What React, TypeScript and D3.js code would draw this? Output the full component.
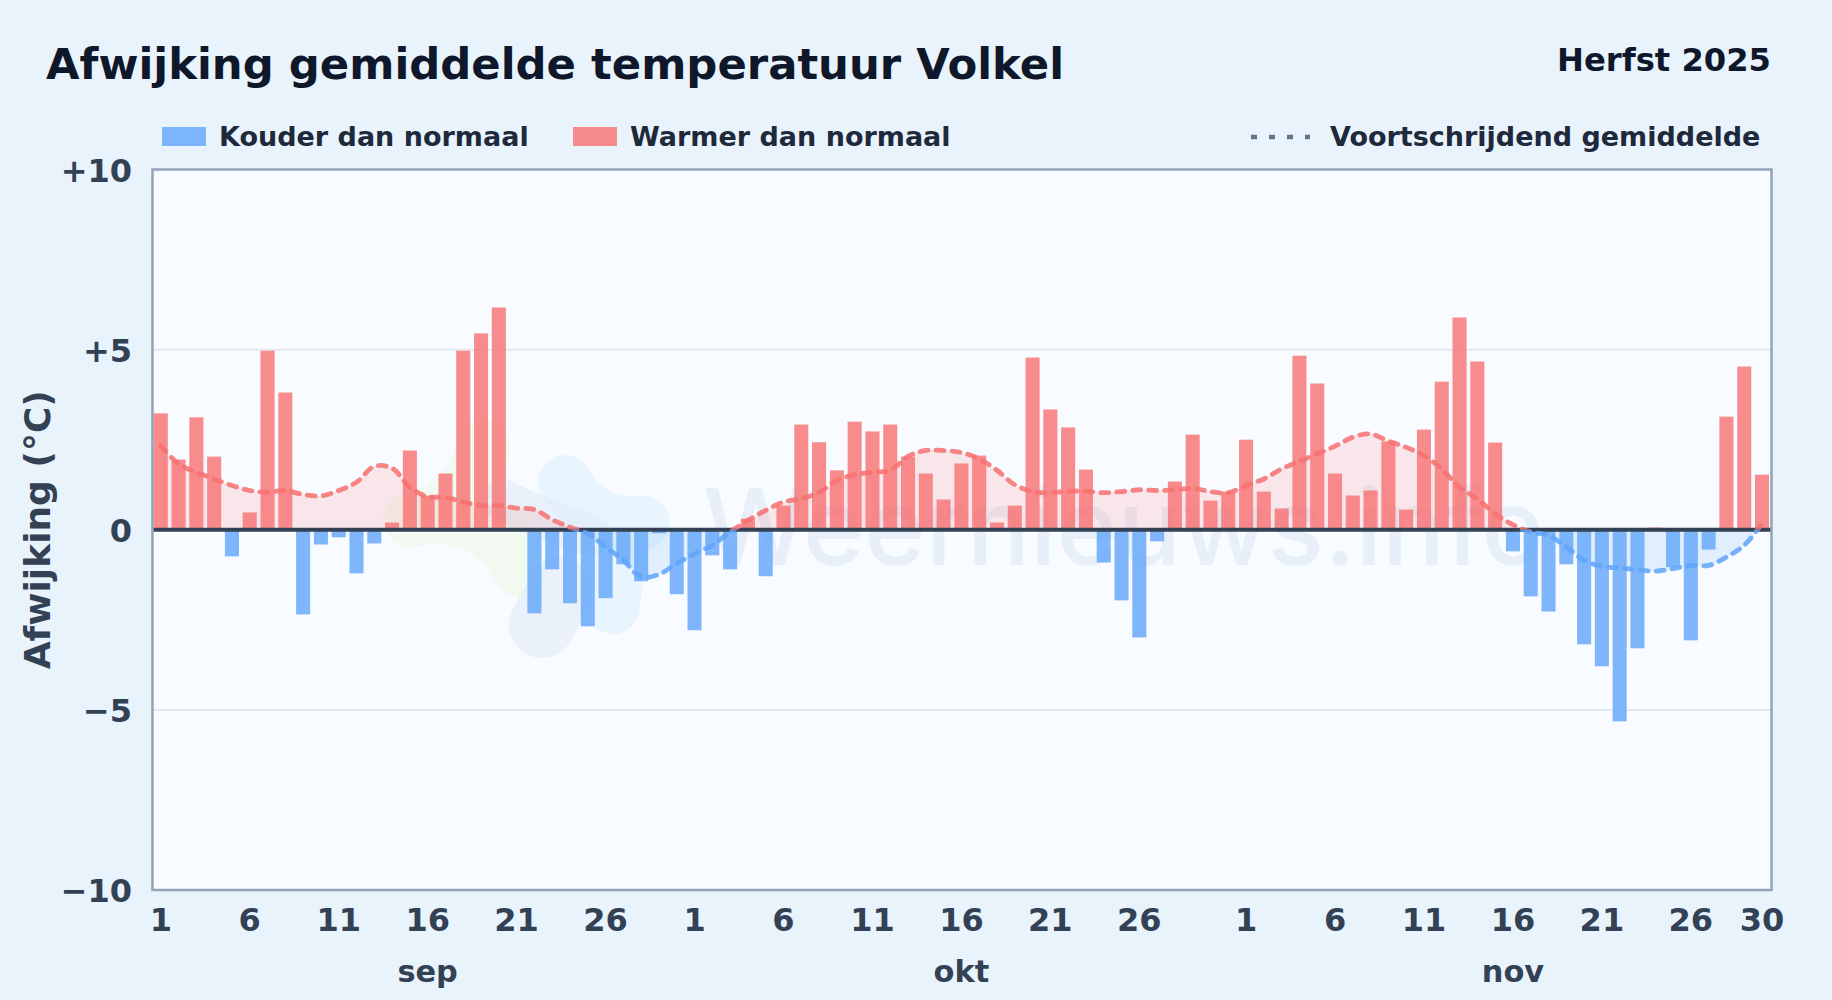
import * as d3 from "d3";

// Daily deviation from normal (°C)
const SEP_VALUES = [3.23, 1.95, 3.12, 2.03, -0.74, 0.48, 4.97, 3.81, -2.35, -0.41, -0.21, -1.21, -0.38, 0.2, 2.2, 0.95, 1.56, 4.97, 5.45, 6.17, 0, -2.32, -1.1, -2.04, -2.68, -1.9, -0.96, -1.43, -0.1, -1.79];
const OKT_VALUES = [-2.79, -0.71, -1.1, 0.31, -1.29, 0.67, 2.92, 2.43, 1.65, 3.0, 2.73, 2.92, 2.03, 1.56, 0.84, 1.84, 2.06, 0.2, 0.67, 4.78, 3.34, 2.84, 1.67, -0.91, -1.96, -2.99, -0.32, 1.34, 2.64, 0.81, 1.06];
const NOV_VALUES = [2.5, 1.06, 0.59, 4.83, 4.06, 1.56, 0.95, 1.09, 2.45, 0.56, 2.78, 4.11, 5.89, 4.67, 2.42, -0.6, -1.85, -2.27, -0.96, -3.18, -3.79, -5.32, -3.29, 0.06, -1.04, -3.07, -0.55, 3.14, 4.53, 1.53];

// Moving average
const SEP_ROLLING = [2.34, 1.83, 1.6, 1.41, 1.23, 1.09, 1.04, 1.09, 0.98, 0.94, 1.09, 1.32, 1.76, 1.71, 1.18, 0.92, 0.9, 0.77, 0.67, 0.67, 0.6, 0.56, 0.28, 0.07, -0.11, -0.48, -0.85, -1.31, -1.24, -0.94];
const OKT_ROLLING = [-0.67, -0.43, -0.06, 0.26, 0.54, 0.77, 0.86, 1.04, 1.37, 1.53, 1.6, 1.65, 2.04, 2.2, 2.2, 2.14, 1.97, 1.65, 1.25, 1.06, 1.03, 1.07, 1.07, 1.03, 1.06, 1.11, 1.09, 1.11, 1.15, 1.06, 1.03];
const NOV_ROLLING = [1.23, 1.41, 1.69, 1.9, 2.11, 2.32, 2.57, 2.66, 2.46, 2.29, 2.06, 1.69, 1.18, 0.86, 0.44, 0.14, -0.06, -0.16, -0.48, -0.85, -1.02, -1.06, -1.11, -1.15, -1.08, -0.99, -0.99, -0.76, -0.43, 0.17];

const MONTHS = ["sep", "okt", "nov"];
const MONTH_DAYS = [SEP_VALUES.length, OKT_VALUES.length, NOV_VALUES.length];
const DAY_TICKS = [1, 6, 11, 16, 21, 26];
const Y_TICKS = [10, 5, 0, -5, -10];

const WIDTH = 1832;
const HEIGHT = 1000;
const PLOT = { left: 152.5, right: 1771.5, top: 169.5, bottom: 890 };
const FONT = "'DejaVu Sans', sans-serif";

const RED = "#f87171";
const BLUE = "#60a5fa";

const values = [...SEP_VALUES, ...OKT_VALUES, ...NOV_VALUES];
const rolling = [...SEP_ROLLING, ...OKT_ROLLING, ...NOV_ROLLING];

// month index + day for every bar, used as band keys
const days = MONTHS.flatMap((m, mi) =>
  d3.range(1, MONTH_DAYS[mi] + 1).map((d) => `${m}-${d}`)
);

const formatY = (t: number) => (t > 0 ? `+${t}` : t < 0 ? `\u2212${-t}` : "0");

export default function App() {
  const x = d3.scaleBand<string>()
    .domain(days)
    .range([PLOT.left - 0.6, PLOT.right - 0.6])
    .paddingInner(0.21)
    .paddingOuter(0.105);
  const y = d3.scaleLinear().domain([-10, 10]).range([PLOT.bottom, PLOT.top]);

  const cx = (i: number) => (x(days[i]) ?? 0) + x.bandwidth() / 2;
  const zero = y(0);

  const rollingLine = d3.line<number>()
    .x((_, i) => cx(i))
    .y((d) => y(d))
    .curve(d3.curveCatmullRom.alpha(0.5));
  const rollingArea = d3.area<number>()
    .x((_, i) => cx(i))
    .y0(zero)
    .y1((d) => y(d))
    .curve(d3.curveCatmullRom.alpha(0.5));

  const linePath = rollingLine(rolling) ?? "";
  const areaPath = rollingArea(rolling) ?? "";

  return (
    <svg
      width={WIDTH}
      height={HEIGHT}
      viewBox={`0 0 ${WIDTH} ${HEIGHT}`}
      fontFamily={FONT}
      fontWeight={700}
      style={{ position: "absolute", left: 0, top: 0, display: "block" }}
    >
      <defs>
        <clipPath id="above">
          <rect x={PLOT.left} y={PLOT.top} width={PLOT.right - PLOT.left} height={zero - PLOT.top} />
        </clipPath>
        <clipPath id="below">
          <rect x={PLOT.left} y={zero} width={PLOT.right - PLOT.left} height={PLOT.bottom - zero} />
        </clipPath>
      </defs>

      <rect width={WIDTH} height={HEIGHT} fill="#e8f3fc" />

      <text x={46} y={79} fontSize={43.35} fill="#0f172a">Afwijking gemiddelde temperatuur Volkel</text>
      <text x={1771} y={71} fontSize={32.2} textAnchor="end" fill="#0f172a">Herfst 2025</text>

      {/* Legend */}
      <rect x={162} y={127} width={44} height={19} fill={BLUE} opacity={0.8} />
      <text x={219} y={146} fontSize={27} fill="#1e293b">Kouder dan normaal</text>
      <rect x={573} y={127} width={44} height={19} fill={RED} opacity={0.8} />
      <text x={630} y={146} fontSize={27} fill="#1e293b">Warmer dan normaal</text>
      <line x1={1251} x2={1310} y1={137} y2={137} stroke="#64748b" strokeWidth={4.5} strokeDasharray="6 12" />
      <text x={1330} y={146} fontSize={27} fill="#1e293b">Voortschrijdend gemiddelde</text>

      {/* Plot background */}
      <rect x={PLOT.left} y={PLOT.top} width={PLOT.right - PLOT.left} height={PLOT.bottom - PLOT.top} fill="#f8fbff" />

      {/* Watermark */}
      <g fill="none" strokeLinecap="round" strokeLinejoin="round">
        <path d="M483 447 Q472 505 410 520 Q485 505 520 570" stroke="#eef8ea" strokeWidth={54} opacity={0.7} />
        <path d="M565 482 Q590 528 643 523" stroke="#e3f2fe" strokeWidth={54} opacity={0.7} />
        <path d="M617 565 L613 607" stroke="#e3f2fe" strokeWidth={54} opacity={0.7} />
        <path d="M542 625 L560 590" stroke="#dfe9f5" strokeWidth={66} opacity={0.55} />
        <path d="M503 500 Q530 515 590 535" stroke="#dfe9f5" strokeWidth={42} opacity={0.55} />
      </g>
      <text x={703} y={565} fontFamily="Inter, sans-serif" fontWeight={500} fontSize={106} textLength={842} lengthAdjust="spacingAndGlyphs" fill="#e3edf8" opacity={0.8}>
        Weernieuws.info
      </text>

      {/* Gridlines */}
      {Y_TICKS.filter((t) => Math.abs(t) === 5).map((t) => (
        <line key={t} x1={PLOT.left} x2={PLOT.right} y1={y(t)} y2={y(t)} stroke="#e2e8f0" strokeWidth={2} />
      ))}

      {/* Rolling average fill, behind the bars */}
      <path d={areaPath} fill={RED} opacity={0.15} clipPath="url(#above)" />
      <path d={areaPath} fill={BLUE} opacity={0.15} clipPath="url(#below)" />

      {/* Bars */}
      {values.map((v, i) => (
        <rect key={days[i]}
          x={x(days[i])}
          y={Math.min(y(v), zero)}
          width={x.bandwidth()}
          height={Math.abs(y(v) - zero)}
          fill={v >= 0 ? RED : BLUE}
          opacity={0.8}
        />
      ))}

      {/* Zero line */}
      <line x1={PLOT.left} x2={PLOT.right} y1={zero} y2={zero} stroke="#334155" strokeWidth={4} />

      {/* Rolling average line */}
      <g fill="none" strokeWidth={4.8} strokeDasharray="8 8" strokeLinecap="round" opacity={0.85}>
        <path d={linePath} stroke={RED} clipPath="url(#above)" />
        <path d={linePath} stroke={BLUE} clipPath="url(#below)" />
      </g>

      {/* Plot border */}
      <rect x={PLOT.left} y={PLOT.top} width={PLOT.right - PLOT.left} height={PLOT.bottom - PLOT.top} fill="none" stroke="#94a3b8" strokeWidth={2.5} />

      {/* Y axis */}
      {Y_TICKS.map((t) => (
        <text key={t} x={132} y={y(t) + 0.8} dy="0.36em" textAnchor="end" fontSize={32} fill="#334155">
          {formatY(t)}
        </text>
      ))}
      <text
        transform={`translate(50,${(PLOT.top + PLOT.bottom) / 2}) rotate(-90)`}
        textAnchor="middle"
        fontSize={36}
        fill="#334155"
      >
        Afwijking (°C)
      </text>

      {/* X axis */}
      {MONTHS.flatMap((m) =>
        DAY_TICKS.map((d) => (
          <text key={`${m}-${d}`} x={cx(days.indexOf(`${m}-${d}`))} y={931} textAnchor="middle" fontSize={32} fill="#334155">
            {d}
          </text>
        ))
      )}
      <text x={cx(days.length - 1)} y={931} textAnchor="middle" fontSize={32} fill="#334155">
        {MONTH_DAYS[2]}
      </text>
      {MONTHS.map((m) => (
        <text key={m} x={cx(days.indexOf(`${m}-16`))} y={982} textAnchor="middle" fontSize={30.4} fill="#334155">
          {m}
        </text>
      ))}
    </svg>
  );
}
